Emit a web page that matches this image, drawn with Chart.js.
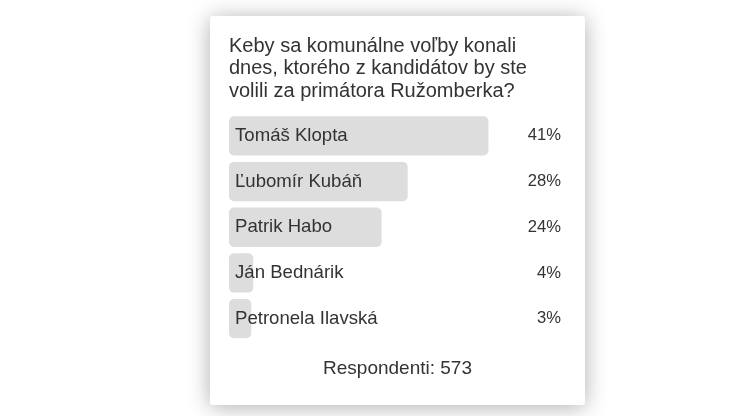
<!DOCTYPE html>
<html>
<head>
<meta charset="utf-8">
<script src="https://cdn.jsdelivr.net/npm/chart.js@4.4.1/dist/chart.umd.min.js"></script>
<style>
  html, body { margin: 0; padding: 0; background: #ffffff; width: 739px; height: 416px; overflow: hidden; }
  #card {
    position: absolute; left: 210px; top: 16px; width: 375px; height: 389px;
    background: #ffffff; border-radius: 3px;
    box-shadow: 0 2px 22px rgba(0,0,0,0.32);
  }
</style>
</head>
<body>
<div id="card"><canvas id="c"></canvas></div>
<script>
const titleLines = [
  'Keby sa komunálne voľby konali',
  'dnes, ktorého z kandidátov by ste',
  'volili za primátora Ružomberka?'
];
const categories = ['Tomáš Klopta', 'Ľubomír Kubáň', 'Patrik Habo', 'Ján Bednárik', 'Petronela Ilavská'];
const shares = [40.8, 28.1, 24.0, 3.8, 3.5];
const pctLabels = ['41%', '28%', '24%', '4%', '3%'];
const footerText = 'Respondenti: 573';

const FONT = "'Liberation Sans', Arial, Helvetica, sans-serif";
const TEXT = '#333333';

function zeroWidth(scale) { scale.width = 0; }

new Chart(document.getElementById('c'), {
  type: 'bar',
  data: {
    labels: categories,
    datasets: [{
      data: shares,
      backgroundColor: '#dddddd',
      borderWidth: 0,
      borderRadius: 5,
      borderSkipped: false,
      barPercentage: 0.86,
      categoryPercentage: 1.0
    }]
  },
  options: {
    indexAxis: 'y',
    responsive: true,
    maintainAspectRatio: false,
    animation: false,
    events: [],
    devicePixelRatio: 1,
    layout: { padding: { left: 19, right: 19, top: 0, bottom: 0 } },
    plugins: {
      legend: { display: false },
      tooltip: { enabled: false },
      title: {
        display: true,
        text: titleLines,
        align: 'start',
        color: TEXT,
        font: { family: FONT, size: 20, weight: 'normal', lineHeight: 1.13 },
        padding: { top: 18.8, bottom: 10.4 }
      },
      subtitle: {
        display: true,
        text: footerText,
        position: 'bottom',
        align: 'center',
        color: TEXT,
        font: { family: FONT, size: 19, weight: 'normal', lineHeight: 1.2 },
        padding: { top: 16.2, bottom: 24.5 }
      }
    },
    scales: {
      x: { display: false, min: 0, max: 53 },
      y: {
        type: 'category',
        position: 'left',
        offset: true,
        afterFit: zeroWidth,
        grid: { display: false, drawTicks: false },
        border: { display: false },
        ticks: {
          z: 1,
          mirror: true,
          padding: 6,
          autoSkip: false,
          color: TEXT,
          font: { family: FONT, size: 18.6 }
        }
      },
      y2: {
        type: 'category',
        position: 'right',
        labels: pctLabels,
        offset: true,
        afterFit: zeroWidth,
        grid: { display: false, drawTicks: false },
        border: { display: false },
        ticks: {
          z: 1,
          mirror: true,
          padding: -5,
          autoSkip: false,
          color: TEXT,
          font: { family: FONT, size: 16.6 }
        }
      }
    }
  }
});
</script>
</body>
</html>
